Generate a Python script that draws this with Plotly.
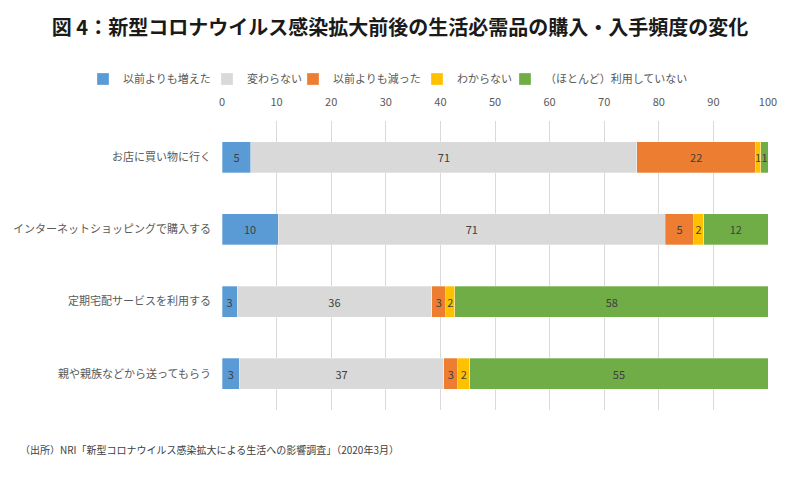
import plotly.graph_objects as go

categories = ["お店に買い物に行く", "インターネットショッピングで購入する", "定期宅配サービスを利用する", "親や親族などから送ってもらう"]
series_names = ["以前よりも増えた", "変わらない", "以前よりも減った", "わからない", "（ほとんど）利用していない"]
increased = [5.3, 10.3, 2.8, 3.2]
unchanged = [70.7, 70.9, 35.6, 37.4]
decreased = [21.7, 5.2, 2.6, 2.6]
unknown = [1.0, 1.8, 1.6, 2.2]
not_used = [1.3, 11.8, 57.6, 54.6]
tick_vals = [0, 10, 20, 30, 40, 50, 60, 70, 80, 90, 100]

colors = ["#5B9BD5", "#D9D9D9", "#ED7D31", "#FFC000", "#70AD47"]
all_series = [increased, unchanged, decreased, unknown, not_used]
legend_text_x = [123, 247, 333, 457, 545]

FONT = "Noto Sans CJK JP"
W, H = 800, 483

fig = go.Figure()
legend_layouts = {}
for i, (name, vals, col) in enumerate(zip(series_names, all_series, colors)):
    lg = "legend" if i == 0 else f"legend{i + 1}"
    fig.add_trace(go.Bar(
        y=categories, x=vals, name=name, orientation="h",
        marker=dict(color=col, line=dict(color="rgba(255,255,255,0.6)", width=0.5)),
        width=0.43,
        texttemplate="%{x:.0f}", textposition="inside", insidetextanchor="middle",
        textangle=0,
        insidetextfont=dict(family=FONT, size=11, color="#404040"),
        hoverinfo="x+y+name",
        legend=lg,
    ))
    legend_layouts[lg] = dict(
        orientation="h", xref="container", yref="container",
        x=(legend_text_x[i] - 40) / W, xanchor="left",
        y=1 - 79 / H, yanchor="middle",
        font=dict(family=FONT, size=11, color="#595959"),
        itemwidth=30, bgcolor="rgba(0,0,0,0)", borderwidth=0,
    )

fig.update_layout(
    barmode="stack",
    width=W, height=H,
    margin=dict(l=222, r=32, t=121, b=73, autoexpand=False),
    paper_bgcolor="white", plot_bgcolor="white",
    font=dict(family=FONT, color="#595959", size=11),
    uniformtext=dict(minsize=11, mode="show"),
    title=dict(text="<b>図 4：新型コロナウイルス感染拡大前後の生活必需品の購入・入手頻度の変化</b>",
               x=0.5, xanchor="center", y=1 - 28 / H, yanchor="middle",
               font=dict(family=FONT, size=20, color="#1a1a1a")),
    showlegend=True,
    xaxis=dict(side="top", range=[0, 100], tickvals=tick_vals, showgrid=True,
               gridcolor="#D9D9D9", gridwidth=1, zeroline=False, showline=False,
               tickfont=dict(family=FONT, size=11, color="#595959"), ticks="",
               ticklabelstandoff=12,
               automargin=False, fixedrange=True),
    yaxis=dict(autorange="reversed", showgrid=False, showline=False, zeroline=False,
               ticks="", ticklabelstandoff=10, automargin=False,
               tickfont=dict(family=FONT, size=11, color="#595959")),
    annotations=[dict(
        text="（出所）NRI「新型コロナウイルス感染拡大による生活への影響調査」（2020年3月）",
        xref="paper", yref="paper", x=(18 - 222) / 546, xanchor="left",
        y=-(449 - 410) / 289, yanchor="middle", showarrow=False,
        font=dict(family=FONT, size=10, color="#404040"))],
)
fig.update_layout(**legend_layouts)

fig.write_html("out.html", config={"displayModeBar": False},
               post_script="document.body.style.margin='0';")
